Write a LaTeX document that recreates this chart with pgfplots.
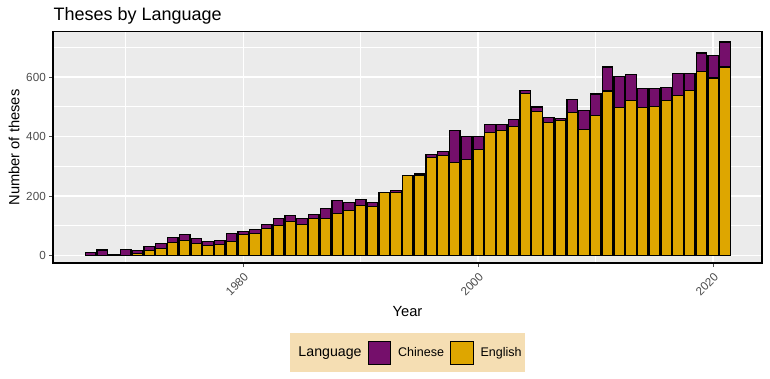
\documentclass[border=0pt]{standalone}
\usepackage{pgfplots}
\pgfplotsset{compat=1.18}
\usepackage{pgfplotstable}
\usepackage{fontspec}
\setmainfont{Liberation Sans}
\definecolor{cnpurple}{RGB}{117,15,107}
\definecolor{engold}{RGB}{222,166,0}
\definecolor{panelgray}{RGB}{235,235,235}
\definecolor{wheatbg}{RGB}{245,222,179}
\definecolor{ticklab}{RGB}{77,77,77}

\pgfplotstableread{
year english chinese
1967 0 10
1968 0 18
1969 0 3
1970 0 20
1971 7 10
1972 17 14
1973 23 18
1974 43 18
1975 50 20
1976 40 17
1977 33 14
1978 37 13
1979 47 27
1980 71 10
1981 74 13
1982 91 13
1983 101 23
1984 114 20
1985 104 20
1986 124 14
1987 124 34
1988 141 44
1989 151 27
1990 168 20
1991 165 13
1992 212 0
1993 212 6
1994 269 0
1995 271 4
1996 329 10
1997 336 14
1998 312 108
1999 322 78
2000 356 44
2001 413 27
2002 420 20
2003 433 24
2004 544 10
2005 484 16
2006 448 16
2007 454 7
2008 482 44
2009 425 64
2010 472 71
2011 553 81
2012 499 104
2013 522 88
2014 499 63
2015 502 60
2016 522 44
2017 539 74
2018 556 57
2019 620 61
2020 597 77
2021 634 84
}\thesesdata

\begin{document}
\begin{tikzpicture}[x=1pt,y=1pt]
\useasboundingbox (0,0) rectangle (770,379);
\begin{axis}[
  at={(53pt,115.5pt)}, anchor=south west,
  scale only axis, width=709pt, height=231.8pt,
  xmin=1963.8, xmax=2024.15, ymin=-27, ymax=753,
  ybar stacked, bar width=0.9,
  axis background/.style={fill=panelgray},
  axis line style={black, line width=1.1pt},
  xtick={1980,2000,2020}, minor xtick={1970,1990,2010},
  ytick={0,200,400,600}, minor ytick={100,300,500,700},
  grid=both,
  major grid style={white, line width=1.6pt},
  minor grid style={white, line width=0.8pt},
  tick align=outside, major tick length=3.7pt, minor tick length=0pt,
  xtick pos=left, ytick pos=left,
  tick style={ticklab, line width=1pt},
  /pgf/number format/assume math mode=true,
  /pgf/number format/1000 sep={},
  yticklabel style={font=\fontsize{11.7}{13}\selectfont, text=ticklab},
  xticklabel style={font=\fontsize{11.7}{13}\selectfont, text=ticklab, rotate=45, anchor=north east},
  title={Theses by Language},
  title style={at={(axis description cs:0,1)}, anchor=base west, yshift=5pt, xshift=-3pt, font=\fontsize{18}{21}\selectfont},
  xlabel={Year},
  xlabel style={at={(axis description cs:0.5,-0.209)}, anchor=center, font=\fontsize{14.7}{17}\selectfont},
  ylabel={Number of theses},
  ylabel style={at={(axis description cs:-0.055,0.5)}, anchor=center, font=\fontsize{14.7}{17}\selectfont},
  legend columns=-1,
  legend style={at={(0.5,-0.2998)}, anchor=north, fill=wheatbg, draw=none,
    font=\fontsize{12.5}{14}\selectfont, inner xsep=1pt, inner ysep=7.5pt,
    /tikz/every even column/.append style={column sep=4pt},
    /tikz/every odd column/.append style={column sep=5pt}},
  legend image code/.code={\draw[#1, draw=black, line width=1pt] (0pt,-11.5pt) rectangle (22.5pt,11.5pt);},
]
\addlegendimage{empty legend}
\addlegendentry{\fontsize{14.2}{17}\selectfont Language}
\addlegendimage{fill=cnpurple}
\addlegendentry{Chinese}
\addlegendimage{fill=engold}
\addlegendentry{English}
\addplot[fill=engold, draw=black, line width=1.3pt] table[x=year, y=english]{\thesesdata};
\addplot[fill=cnpurple, draw=black, line width=1.3pt] table[x=year, y=chinese]{\thesesdata};
\draw[black, line width=2.2pt] (rel axis cs:0,1) -- (rel axis cs:0,0) -- (rel axis cs:1,0);
\end{axis}
\end{tikzpicture}
\end{document}
